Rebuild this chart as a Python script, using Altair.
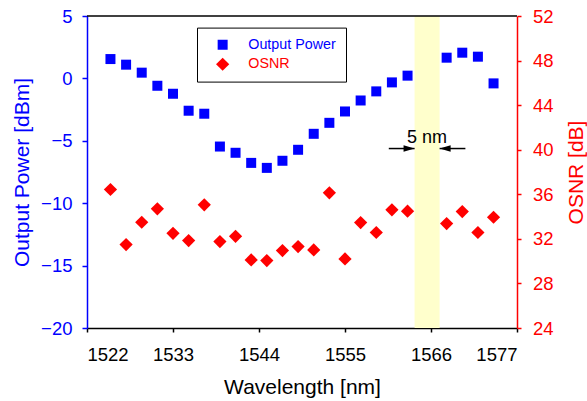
import altair as alt
import pandas as pd

# ---------------- data ----------------
wavelength = [1525, 1527, 1529, 1531, 1533, 1535, 1537, 1539, 1541, 1543,
              1545, 1547, 1549, 1551, 1553, 1555, 1557, 1559, 1561, 1563,
              1568, 1570, 1572, 1574]
output_power = [1.55, 1.1, 0.46, -0.59, -1.23, -2.59, -2.83, -5.46, -5.96, -6.77,
                -7.17, -6.6, -5.72, -4.44, -3.56, -2.65, -1.77, -1.04, -0.32, 0.22,
                1.66, 2.06, 1.74, -0.40]
osnr = [36.43, 31.49, 33.49, 34.70, 32.50, 31.85, 35.05, 31.76, 32.23, 30.11,
        30.05, 30.95, 31.31, 31.01, 36.13, 30.2, 33.46, 32.57, 34.61, 34.48,
        33.37, 34.45, 32.57, 33.94]
series_names = ["Output Power", "OSNR"]
series_colors = ["#0000ff", "#ff0000"]
x_ticks = [1522, 1533, 1544, 1555, 1566, 1577]
power_ticks = [-20, -15, -10, -5, 0, 5]
osnr_ticks = [24, 28, 32, 36, 40, 44, 48, 52]
band = [1563.9, 1567.1]
band_label = "5 nm"
band_label_pos = [1565.5, -4.75]
arrow_left = [1560.6, 1563.9]
arrow_right = [1570.4, 1567.1]
arrow_y = -5.62

power_df = pd.DataFrame({"wavelength": wavelength, "value": output_power,
                         "series": series_names[0]})
osnr_df = pd.DataFrame({"wavelength": wavelength, "value": osnr,
                        "series": series_names[1]})
band_df = pd.DataFrame({"start": [band[0]], "end": [band[1]]})
label_df = pd.DataFrame({"x": [band_label_pos[0]], "y": [band_label_pos[1]],
                         "text": [band_label]})
arrow_df = pd.DataFrame({"x1": [arrow_left[0], arrow_right[0]],
                         "x2": [arrow_left[1], arrow_right[1]],
                         "y": [arrow_y, arrow_y],
                         "dir": ["right", "left"]})
frame_top_df = pd.DataFrame({"x1": [x_ticks[0]], "x2": [x_ticks[-1]],
                             "y": [power_ticks[-1]]})

FONT = "Liberation Sans"
W, H = 430, 312

xscale = alt.Scale(domain=[x_ticks[0], x_ticks[-1]], nice=False, zero=False)
pscale = alt.Scale(domain=[power_ticks[0], power_ticks[-1]], nice=False, zero=False)
oscale = alt.Scale(domain=[osnr_ticks[0], osnr_ticks[-1]], nice=False, zero=False)

x_axis = alt.Axis(values=x_ticks, title="Wavelength [nm]", grid=False, tickSize=4,
                  labelFontSize=18.5, labelBaseline="alphabetic", labelPadding=28.5,
                  titleFontSize=21, titleFontWeight="normal", titleY=65,
                  titleBaseline="alphabetic", domainColor="black", tickColor="black",
                  labelColor="black", titleColor="black", domainWidth=1.5,
                  tickWidth=1.5, format="d")
left_axis = alt.Axis(values=power_ticks, orient="left", title="Output Power [dBm]",
                     grid=False, tickSize=5, labelPadding=10, labelFontSize=18.5,
                     titleFontSize=21, titleFontWeight="normal", titleX=-65,
                     titleY=H / 2, titleAngle=270, titleAlign="center",
                     titleBaseline="middle", domainColor="#0000ff",
                     tickColor="#0000ff", labelColor="#0000ff", titleColor="#0000ff",
                     domainWidth=1.5, tickWidth=1.5)
right_axis = alt.Axis(values=osnr_ticks, orient="right", title="OSNR  [dB]",
                      grid=False, tickSize=4, labelPadding=11.5, labelFontSize=18.5,
                      titleFontSize=21, titleFontWeight="normal", titleX=59,
                      titleY=H / 2, titleAngle=270, titleAlign="center",
                      titleBaseline="middle", domainColor="#ff0000",
                      tickColor="#ff0000", labelColor="#ff0000", titleColor="#ff0000",
                      domainWidth=1.5, tickWidth=1.5)

legend = alt.Legend(title=None, orient="none", legendX=110, legendY=11.6,
                    strokeColor="black", fillColor="white", padding=10,
                    symbolOffset=8.5, labelOffset=18.5, rowPadding=4.5,
                    labelFontSize=14.3, symbolStrokeWidth=0,
                    labelColor={"expr": "datum.label == 'OSNR' ? '#ff0000' : '#0000ff'"})

color_enc = alt.Color("series:N", scale=alt.Scale(domain=series_names, range=series_colors),
                      legend=legend)
shape_enc = alt.Shape("series:N", scale=alt.Scale(domain=series_names,
                                                  range=["square", "diamond"]),
                      legend=legend)
size_enc = alt.Size("series:N", scale=alt.Scale(domain=series_names, range=[100, 175]),
                    legend=legend)

band_layer = alt.Chart(band_df).mark_rect(color="#ffffcc").encode(
    x=alt.X("start:Q", scale=xscale, axis=x_axis),
    x2="end:Q",
)

top_line = alt.Chart(frame_top_df).mark_rule(color="black", strokeWidth=1.5).encode(
    x=alt.X("x1:Q", scale=xscale),
    x2="x2:Q",
    y=alt.Y("y:Q", scale=pscale),
)

power_layer = alt.Chart(power_df).mark_point(filled=True, opacity=1).encode(
    x=alt.X("wavelength:Q", scale=xscale, axis=x_axis),
    y=alt.Y("value:Q", scale=pscale, axis=left_axis),
    color=color_enc, shape=shape_enc, size=size_enc,
)

text_layer = alt.Chart(label_df).mark_text(fontSize=18, color="black", align="center",
                                            baseline="middle").encode(
    x=alt.X("x:Q", scale=xscale),
    y=alt.Y("y:Q", scale=pscale),
    text="text:N",
)

arrow_lines = alt.Chart(arrow_df).mark_rule(color="black", strokeWidth=1.5).encode(
    x=alt.X("x1:Q", scale=xscale),
    x2="x2:Q",
    y=alt.Y("y:Q", scale=pscale),
)
head_right = alt.Chart(arrow_df[arrow_df["dir"] == "right"]).mark_point(
    shape="M0,0L-2,-0.6L-2,0.6Z", filled=True, color="black", size=121, opacity=1
).encode(x=alt.X("x2:Q", scale=xscale), y=alt.Y("y:Q", scale=pscale))
head_left = alt.Chart(arrow_df[arrow_df["dir"] == "left"]).mark_point(
    shape="M0,0L2,-0.6L2,0.6Z", filled=True, color="black", size=121, opacity=1
).encode(x=alt.X("x2:Q", scale=xscale), y=alt.Y("y:Q", scale=pscale))

osnr_layer = alt.Chart(osnr_df).mark_point(filled=True, opacity=1).encode(
    x=alt.X("wavelength:Q", scale=xscale, axis=x_axis),
    y=alt.Y("value:Q", scale=oscale, axis=right_axis),
    color=color_enc, shape=shape_enc, size=size_enc,
)

left_group = alt.layer(band_layer, top_line, power_layer, text_layer, arrow_lines,
                       head_right, head_left)

chart = alt.layer(left_group, osnr_layer).resolve_scale(y="independent").properties(
    width=W, height=H,
    autosize=alt.AutoSizeParams(type="none"),
    padding={"left": 87, "top": 16, "right": 70, "bottom": 73},
    background="white",
).configure(font=FONT).configure_view(strokeWidth=0)

chart.save("out.html", embed_options={"renderer": "svg", "actions": False})
